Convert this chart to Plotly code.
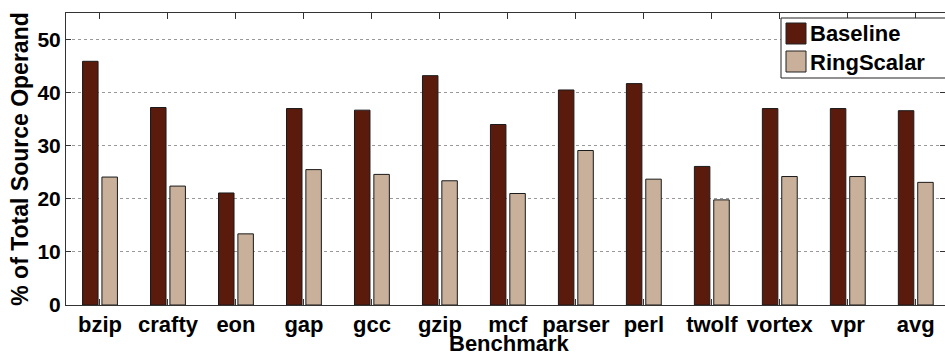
import plotly.graph_objects as go

# benchmark names and measured values (% of total source operand)
benchmarks = ["bzip", "crafty", "eon", "gap", "gcc", "gzip", "mcf",
              "parser", "perl", "twolf", "vortex", "vpr", "avg"]
baseline = [45.9, 37.2, 21.1, 37.0, 36.7, 43.2, 34.0, 40.5, 41.7, 26.1, 37.0, 37.0, 36.6]
ringscalar = [24.1, 22.4, 13.4, 25.5, 24.6, 23.4, 21.0, 29.1, 23.7, 19.8, 24.2, 24.2, 23.1]
y_ticks = [0, 10, 20, 30, 40, 50]
series_names = ["Baseline", "RingScalar"]
series_colors = ["#5a1b0d", "#c8b09b"]

# plot area in window pixels: left 66, top 13, bottom 305, runs off the right edge
W, H = 945, 354
L, T, B, R = 66, 13, 354 - 305, 0
pw, ph = W - L - R, H - T - B


def px(x):
    # window pixel -> paper x
    return (x - L) / pw


def py(y):
    # window pixel -> paper y
    return (H - B - y) / ph


fig = go.Figure()
for name, vals, col in zip(series_names, [baseline, ringscalar], series_colors):
    fig.add_trace(go.Bar(x=benchmarks, y=vals, name=name, showlegend=False,
                         marker=dict(color=col, line=dict(color="#1a1a1a", width=1))))

# legend drawn by hand so the swatches are as big as in the original
fig.add_shape(type="rect", xref="paper", yref="paper",
              x0=px(781), x1=px(960), y0=py(78), y1=py(18),
              line=dict(color="#222", width=1), fillcolor="white", layer="above")
for i, (name, col) in enumerate(zip(series_names, series_colors)):
    top = 23 + i * 28
    fig.add_shape(type="rect", xref="paper", yref="paper",
                  x0=px(786), x1=px(806), y0=py(top + 21), y1=py(top),
                  line=dict(color="#222", width=1), fillcolor=col, layer="above")
    fig.add_annotation(text=name, xref="paper", yref="paper",
                       x=px(808), y=py(top + 11), xanchor="left", yanchor="middle",
                       showarrow=False, font=dict(size=22))

# x axis title sits tight under the tick labels
fig.add_annotation(text="Benchmark", xref="paper", yref="paper",
                   x=px(510), y=py(329), xanchor="center", yanchor="top",
                   showarrow=False, font=dict(size=22))

fig.update_layout(
    width=W, height=H,
    margin=dict(l=L, r=R, t=T, b=B),
    paper_bgcolor="white", plot_bgcolor="white",
    font=dict(family="Liberation Sans, Arial, sans-serif", size=20, color="black", weight="bold"),
    barmode="group", bargap=0.43, bargroupgap=0.2,
)
fig.update_xaxes(
    range=[-0.5, 12.43], showline=True, linecolor="#333", linewidth=1,
    mirror="ticks", ticks="inside", ticklen=6, tickcolor="#333",
    tickfont=dict(size=22), automargin=False,
)
fig.update_yaxes(
    range=[0, 55], tickvals=y_ticks, showline=True, linecolor="#333", linewidth=1,
    mirror="ticks", ticks="inside", ticklen=5, tickcolor="#333",
    showgrid=True, gridcolor="#999", griddash="dot", gridwidth=1,
    title=dict(text="% of Total Source Operand", standoff=2, font=dict(size=23)),
    tickfont=dict(size=21), zeroline=False, automargin=False,
)

# drop the default body margin so the figure fills the window exactly
fig.write_html("out.html", config={"displayModeBar": False},
               post_script="document.body.style.margin='0';document.body.style.overflow='hidden';")
